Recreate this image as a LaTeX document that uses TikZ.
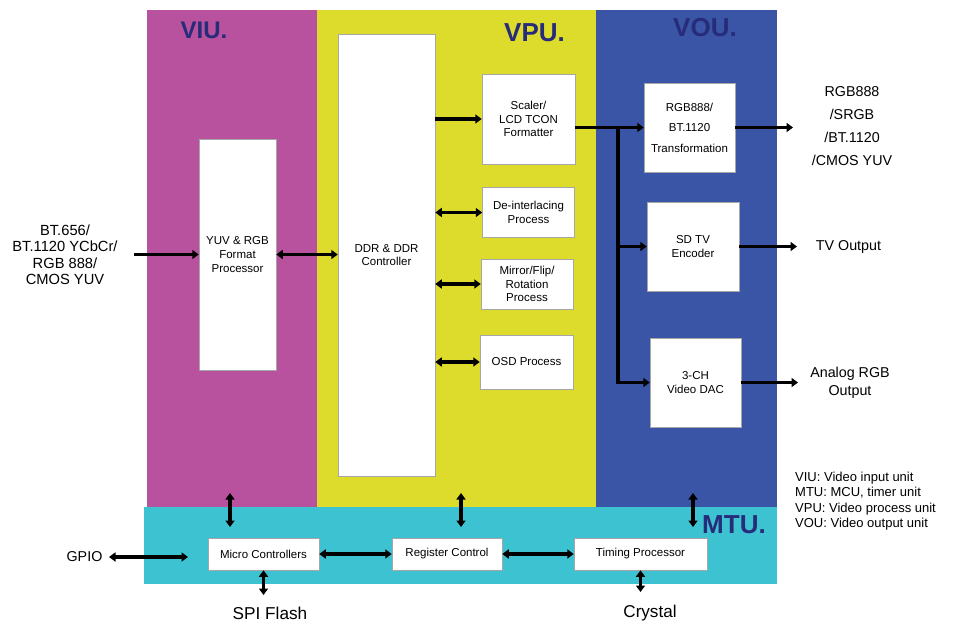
\documentclass[tikz,border=0pt]{standalone}
\usepackage{fontspec}
\setmainfont{Liberation Sans}
\usetikzlibrary{arrows.meta}
\definecolor{viuC}{HTML}{B9529E}
\definecolor{vpuC}{HTML}{DDDB2B}
\definecolor{vouC}{HTML}{3A54A6}
\definecolor{mtuC}{HTML}{3DC2D2}
\definecolor{navy}{HTML}{262C79}
\begin{document}
\begin{tikzpicture}[x=1pt,y=-1pt,
  blk/.style={draw=black!35, line width=0.5pt, fill=white, align=center, inner sep=0pt, font=\fontsize{11.5}{13.8}\selectfont},
  conn/.style={line width=3.4pt, -{Triangle[length=6.5pt,width=9pt]}},
  dconn/.style={line width=3.4pt, {Triangle[length=6.5pt,width=9pt]}-{Triangle[length=6.5pt,width=9pt]}},
  unit/.style={font=\bfseries\fontsize{26}{26}\selectfont, text=navy, inner sep=0pt},
  lbl/.style={align=center, inner sep=0pt, font=\fontsize{14.3}{18}\selectfont}]
\useasboundingbox (0,0) rectangle (953,621);
\fill[white] (0,0) rectangle (953,621);
% unit regions
\fill[viuC] (147,10) rectangle (317,507);
\fill[vpuC] (317,10) rectangle (596,507);
\fill[vouC] (596,10) rectangle (777,507);
\fill[mtuC] (144,507) rectangle (777,584);
% unit labels
\node[unit, font=\bfseries\fontsize{24}{24}\selectfont] (viuL) at (204,30) {VIU.};
\node[unit] (vpuL) at (534.5,32.5) {VPU.};
\node[unit] (vouL) at (705,28) {VOU.};
\node[unit] (mtuL) at (734,525) {MTU.};
% blocks
\node[blk, minimum width=77pt, minimum height=231pt] (yuv) at (237.5,254.5) {YUV \& RGB\\Format\\Processor};
\node[blk, minimum width=97pt, minimum height=442pt] (ddr) at (386.5,255) {DDR \& DDR\\Controller};
\node[blk, minimum width=93pt, minimum height=90pt] (scl) at (528.5,119) {Scaler/\\LCD TCON\\Formatter};
\node[blk, minimum width=92pt, minimum height=50pt] (dei) at (528.5,212.5) {De-interlacing\\Process};
\node[blk, minimum width=92pt, minimum height=50pt] (mir) at (527,284) {Mirror/Flip/\\Rotation\\Process};
\node[blk, minimum width=93pt, minimum height=54pt] (osd) at (526.5,362) {OSD Process};
\node[blk, minimum width=91pt, minimum height=89pt, font=\fontsize{11.5}{20.5}\selectfont] (rgb) at (689.5,127.5) {RGB888/\\BT.1120\\Transformation};
\node[blk, minimum width=92pt, minimum height=89pt] (sdtv) at (693,246.5) {SD TV\\Encoder};
\node[blk, minimum width=91pt, minimum height=89pt] (dac) at (695.5,382.5) {3-CH\\Video DAC};
\node[blk, minimum width=111pt, minimum height=32pt] (mcu) at (263.5,554) {Micro Controllers};
\node[blk, minimum width=110pt, minimum height=32pt] (reg) at (447,554) {Register Control};
\node[blk, minimum width=133pt, minimum height=32pt] (tim) at (640.5,554) {Timing Processor};
% outside texts
\node[lbl, font=\fontsize{14.7}{16.5}\selectfont] (inT) at (65,254.5) {BT.656/\\BT.1120 YCbCr/\\RGB 888/\\CMOS YUV};
\node[lbl, font=\fontsize{14.3}{23}\selectfont] (outT1) at (852,126.5) {RGB888\\/SRGB\\/BT.1120\\/CMOS YUV};
\node[lbl] (outT2) at (848.5,247) {TV Output};
\node[lbl] (outT3) at (850,382.5) {Analog RGB\\Output};
\node[anchor=west, align=left, inner sep=0pt, font=\fontsize{13}{15.3}\selectfont] (leg) at (795,501) {VIU: Video input unit\\MTU: MCU, timer unit\\VPU: Video process unit\\VOU: Video output unit};
\node[lbl] (gpio) at (84.5,557) {GPIO};
\node[lbl, font=\fontsize{17.2}{20}\selectfont] (spi) at (270,613) {SPI Flash};
\node[lbl, font=\fontsize{17.1}{20}\selectfont] (cry) at (650,613.5) {Crystal};
% coordinates
\coordinate (inS) at (134,254.5);
\coordinate (br) at (618,127.5);
\coordinate (o1) at (793,127.5);
\coordinate (o2) at (797,246.5);
\coordinate (o3) at (798,382.5);
\coordinate (v1a) at (230,493);
\coordinate (v1b) at (230,527);
\coordinate (v2a) at (461,493);
\coordinate (v2b) at (461,527);
\coordinate (v3a) at (693,493);
\coordinate (v3b) at (693,527);
\coordinate (g1) at (109,557);
\coordinate (g2) at (188,557);
\coordinate (spiE) at (263.5,595);
\coordinate (cryE) at (640.5,592);
% connectors
\draw[conn] (inS) -- (yuv.west);
\draw[dconn] (yuv.east) -- (ddr.west |- yuv.east);
\draw[conn] (ddr.east |- scl.west) -- (scl.west);
\draw[dconn] (ddr.east |- dei.west) -- (dei.west);
\draw[dconn] (ddr.east |- mir.west) -- (mir.west);
\draw[dconn] (ddr.east |- osd.west) -- (osd.west);
\draw[conn] (scl.east |- rgb.west) -- (rgb.west);
\draw[conn] (br) |- (dac.west);
\draw[conn] (br |- sdtv.west) -- (sdtv.west);
\draw[conn] (rgb.east) -- (o1);
\draw[conn] (sdtv.east) -- (o2);
\draw[conn] (dac.east) -- (o3);
\draw[dconn] (v1a) -- (v1b);
\draw[dconn] (v2a) -- (v2b);
\draw[dconn] (v3a) -- (v3b);
\draw[dconn] (g1) -- (g2);
\draw[dconn] (mcu.east) -- (reg.west);
\draw[dconn] (reg.east) -- (tim.west);
\draw[dconn] (mcu.south) -- (spiE);
\draw[dconn] (tim.south) -- (cryE);
\end{tikzpicture}
\end{document}
